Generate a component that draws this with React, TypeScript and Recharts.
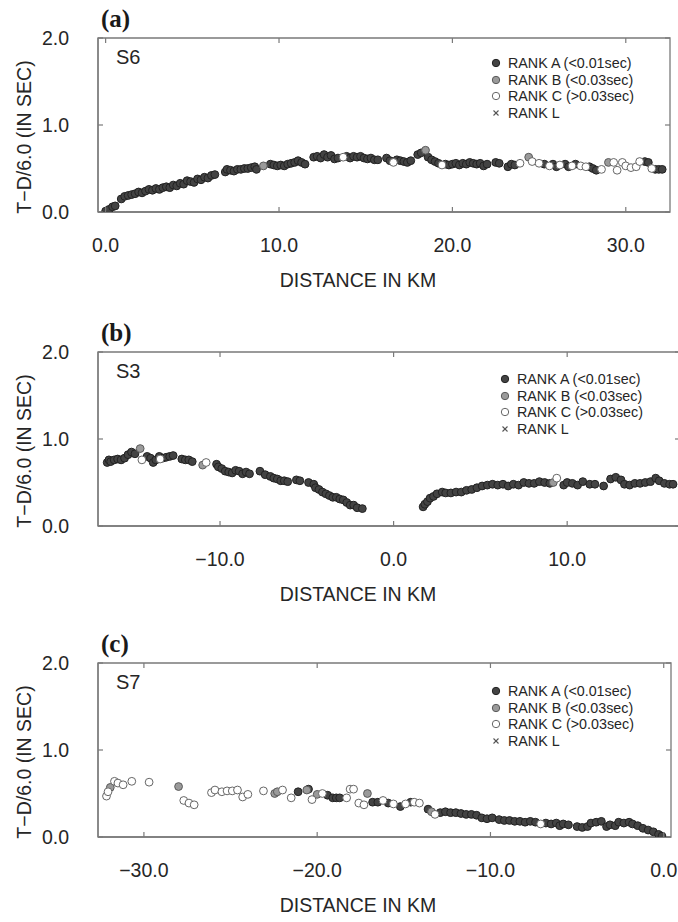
import React from "react";
import { Legend, ReferenceArea, Scatter, ScatterChart, XAxis, YAxis } from "recharts";

const FONT = '"Liberation Sans", Arial, sans-serif';
const INK = "#262626";
const FRAME = "#7a7a7a";

// layout of one panel (plot box is 174px tall, left edge at x=98)
const PLOT_LEFT = 98;
const PLOT_H = 174;
const MT = 36;
const MR = 8;
const XAXIS_H = 85;
const CH = MT + PLOT_H + XAXIS_H;
const DOT_R = 3.9;

const Y_TICKS = [0, 1, 2];

// ---- (a) S6 ----
const S6_X_TICKS = [0, 10, 20, 30];
const S6_RANK_A: [number, number][] = [
  [0.0, 0.01], [0.2, 0.03], [0.4, 0.06], [0.55, 0.07], [0.9, 0.15], [1.1, 0.18], [1.3, 0.19],
  [1.5, 0.2], [1.7, 0.21], [1.9, 0.23], [2.1, 0.22], [2.3, 0.24], [2.5, 0.26], [2.7, 0.25],
  [2.9, 0.27], [3.1, 0.26], [3.3, 0.28], [3.5, 0.29], [3.7, 0.28], [3.9, 0.31], [4.1, 0.3],
  [4.3, 0.33], [4.5, 0.32], [4.7, 0.36], [4.9, 0.35], [5.1, 0.34], [5.3, 0.38], [5.5, 0.37],
  [5.7, 0.4], [5.9, 0.39], [6.1, 0.42], [6.3, 0.43], [6.9, 0.46], [7.0, 0.49], [7.2, 0.48],
  [7.4, 0.47], [7.6, 0.49], [7.8, 0.49], [8.0, 0.5], [8.2, 0.5], [8.4, 0.51], [8.6, 0.52],
  [8.7, 0.49], [9.5, 0.55], [9.7, 0.54], [9.9, 0.53], [10.1, 0.54], [10.3, 0.53], [10.5, 0.55],
  [10.7, 0.56], [10.9, 0.57], [11.1, 0.59], [11.3, 0.57], [11.5, 0.55], [12.0, 0.63], [12.2, 0.64],
  [12.4, 0.62], [12.6, 0.66], [12.8, 0.63], [13.0, 0.65], [13.2, 0.61], [13.4, 0.62], [13.9, 0.64],
  [14.1, 0.62], [14.3, 0.64], [14.5, 0.63], [14.7, 0.64], [14.9, 0.62], [15.1, 0.61], [15.3, 0.62],
  [15.5, 0.6], [15.7, 0.6], [16.2, 0.62], [16.4, 0.59], [16.8, 0.6], [17.0, 0.59], [17.2, 0.58],
  [17.4, 0.57], [17.6, 0.59], [18.0, 0.66], [18.2, 0.68], [18.6, 0.63], [18.8, 0.6], [19.0, 0.58],
  [19.2, 0.56], [19.6, 0.55], [19.8, 0.54], [20.0, 0.55], [20.2, 0.56], [20.4, 0.54], [20.6, 0.56],
  [20.8, 0.55], [21.0, 0.57], [21.2, 0.56], [21.4, 0.55], [21.6, 0.56], [21.8, 0.53], [22.0, 0.55],
  [22.5, 0.57], [22.7, 0.56], [23.2, 0.52], [23.4, 0.55], [23.6, 0.54], [25.3, 0.55], [25.8, 0.55],
  [26.0, 0.52], [26.5, 0.55], [26.7, 0.52], [27.1, 0.55], [27.9, 0.52], [28.1, 0.5], [28.3, 0.48],
  [31.1, 0.58], [31.3, 0.57], [31.7, 0.49], [31.9, 0.49], [32.1, 0.49],
];
const S6_RANK_B: [number, number][] = [[9.1, 0.53], [18.45, 0.71], [24.4, 0.63], [29.0, 0.57]];
const S6_RANK_C: [number, number][] = [
  [13.7, 0.63], [16.6, 0.57], [19.4, 0.54], [23.9, 0.56], [24.6, 0.58], [25.0, 0.56], [25.6, 0.53],
  [26.2, 0.54], [26.9, 0.53], [27.4, 0.53], [27.7, 0.52], [28.6, 0.49], [29.3, 0.57], [29.5, 0.48],
  [29.8, 0.57], [30.0, 0.53], [30.3, 0.51], [30.6, 0.52], [30.8, 0.58], [31.5, 0.5],
];

// ---- (b) S3 ----
const S3_X_TICKS = [-10, 0, 10];
const S3_RANK_A: [number, number][] = [
  [-16.5, 0.73], [-16.4, 0.76], [-16.3, 0.74], [-16.1, 0.76], [-15.9, 0.77], [-15.7, 0.76],
  [-15.5, 0.78], [-15.3, 0.82], [-15.1, 0.85], [-14.9, 0.83], [-14.2, 0.8], [-14.0, 0.78],
  [-13.85, 0.73], [-13.7, 0.76], [-13.5, 0.8], [-13.3, 0.78], [-13.1, 0.79], [-12.9, 0.8],
  [-12.7, 0.81], [-12.2, 0.77], [-12.0, 0.76], [-11.8, 0.76], [-11.6, 0.74], [-10.2, 0.71],
  [-10.1, 0.68], [-9.9, 0.66], [-9.7, 0.63], [-9.5, 0.62], [-9.3, 0.61], [-9.1, 0.64], [-8.9, 0.63],
  [-8.7, 0.6], [-8.5, 0.62], [-8.3, 0.6], [-7.7, 0.63], [-7.4, 0.59], [-7.1, 0.57], [-6.9, 0.55],
  [-6.7, 0.54], [-6.5, 0.52], [-6.3, 0.52], [-6.1, 0.51], [-5.6, 0.53], [-5.4, 0.52], [-4.9, 0.5],
  [-4.6, 0.48], [-4.5, 0.44], [-4.3, 0.42], [-4.1, 0.39], [-3.9, 0.37], [-3.7, 0.35], [-3.5, 0.33],
  [-3.3, 0.33], [-3.1, 0.31], [-2.9, 0.3], [-2.7, 0.27], [-2.5, 0.24], [-2.3, 0.24], [-2.1, 0.21],
  [-1.8, 0.2],
  [1.7, 0.22], [1.8, 0.25], [1.95, 0.28], [2.1, 0.32], [2.3, 0.34], [2.5, 0.37], [2.8, 0.39],
  [3.0, 0.38], [3.3, 0.38], [3.6, 0.39], [3.9, 0.39], [4.2, 0.41], [4.5, 0.42], [4.8, 0.44],
  [5.1, 0.46], [5.4, 0.47], [5.7, 0.48], [6.0, 0.47], [6.3, 0.48], [6.6, 0.46], [6.9, 0.48],
  [7.2, 0.47], [7.5, 0.5], [7.8, 0.49], [8.1, 0.49], [8.4, 0.51], [8.7, 0.5], [9.0, 0.49],
  [9.8, 0.47], [10.0, 0.5], [10.3, 0.49], [10.6, 0.47], [10.9, 0.51], [11.3, 0.48], [11.6, 0.48],
  [12.1, 0.46], [12.5, 0.54], [12.8, 0.56], [13.1, 0.53], [13.3, 0.48], [13.6, 0.47], [13.9, 0.49],
  [14.2, 0.49], [14.5, 0.5], [14.8, 0.51], [15.1, 0.55], [15.3, 0.52], [15.6, 0.49], [15.9, 0.48],
  [16.1, 0.48],
];
const S3_RANK_B: [number, number][] = [[-14.6, 0.89], [-11.0, 0.7], [9.2, 0.5]];
const S3_RANK_C: [number, number][] = [[-14.5, 0.76], [-13.45, 0.77], [-10.8, 0.73], [9.4, 0.55]];

// ---- (c) S7 ----
const S7_X_TICKS = [-30, -20, -10, 0];
const S7_RANK_A: [number, number][] = [
  [-21.1, 0.52], [-20.5, 0.55], [-19.4, 0.48], [-19.1, 0.45], [-18.9, 0.45], [-18.7, 0.45],
  [-16.8, 0.4], [-16.5, 0.4], [-15.9, 0.39], [-15.2, 0.35], [-14.6, 0.4], [-13.6, 0.32],
  [-12.9, 0.28], [-12.6, 0.29], [-12.3, 0.28], [-12.0, 0.28], [-11.7, 0.27], [-11.4, 0.26],
  [-11.1, 0.26], [-10.8, 0.25], [-10.5, 0.22], [-10.2, 0.21], [-9.9, 0.22], [-9.5, 0.2],
  [-9.2, 0.19], [-8.9, 0.19], [-8.6, 0.18], [-8.3, 0.18], [-8.0, 0.17], [-7.7, 0.18], [-7.4, 0.17],
  [-6.8, 0.16], [-6.5, 0.15], [-6.2, 0.16], [-6.0, 0.13], [-5.8, 0.15], [-5.5, 0.14], [-5.0, 0.12],
  [-4.7, 0.11], [-4.4, 0.12], [-4.2, 0.16], [-3.9, 0.17], [-3.6, 0.18], [-3.3, 0.12], [-3.1, 0.14],
  [-2.8, 0.13], [-2.6, 0.17], [-2.3, 0.16], [-2.0, 0.17], [-1.8, 0.15], [-1.5, 0.13], [-1.2, 0.1],
  [-0.9, 0.08], [-0.6, 0.06], [-0.3, 0.03], [-0.1, 0.01],
];
const S7_RANK_B: [number, number][] = [
  [-31.94, 0.57], [-28.0, 0.58], [-22.45, 0.5], [-22.3, 0.52], [-20.6, 0.54], [-20.0, 0.49],
  [-17.1, 0.5], [-13.4, 0.29],
];
const S7_RANK_C: [number, number][] = [
  [-32.16, 0.47], [-32.07, 0.52], [-31.7, 0.64], [-31.5, 0.62], [-31.2, 0.6], [-30.7, 0.64],
  [-29.7, 0.63], [-27.7, 0.42], [-27.4, 0.39], [-27.1, 0.37], [-26.1, 0.51], [-25.9, 0.54],
  [-25.5, 0.52], [-25.2, 0.53], [-24.9, 0.53], [-24.6, 0.54], [-24.3, 0.46], [-24.0, 0.49],
  [-23.1, 0.53], [-22.0, 0.54], [-21.5, 0.45], [-20.3, 0.43], [-19.7, 0.5], [-18.3, 0.45],
  [-18.1, 0.55], [-17.9, 0.55], [-17.6, 0.39], [-17.3, 0.37], [-16.2, 0.42], [-15.6, 0.38],
  [-14.9, 0.38], [-14.4, 0.4], [-14.1, 0.39], [-13.2, 0.26], [-7.1, 0.15],
];

const RANKS = [
  { label: "RANK A (<0.01sec)", fill: "#434343", stroke: "#222222" },
  { label: "RANK B (<0.03sec)", fill: "#9a9a9a", stroke: "#5a5a5a" },
  { label: "RANK C (>0.03sec)", fill: "#ffffff", stroke: "#666666" },
  { label: "RANK L", fill: "none", stroke: "#555555" },
];

const PANELS = [
  {
    letter: "(a)", station: "S6", plotTop: 38, width: 678, xDomain: [-0.44, 32.55],
    xTicks: S6_X_TICKS, a: S6_RANK_A, b: S6_RANK_B, c: S6_RANK_C, legendX: 496, legendY: 25,
  },
  {
    letter: "(b)", station: "S3", plotTop: 352, width: 688, xDomain: [-17.03, 16.5],
    xTicks: S3_X_TICKS, a: S3_RANK_A, b: S3_RANK_B, c: S3_RANK_C, legendX: 505, legendY: 27,
  },
  {
    letter: "(c)", station: "S7", plotTop: 663, width: 679, xDomain: [-32.65, 0.42],
    xTicks: S7_X_TICKS, a: S7_RANK_A, b: S7_RANK_B, c: S7_RANK_C, legendX: 496, legendY: 28,
  },
];

const toPts = (arr: [number, number][]) => arr.map(([x, y]) => ({ x, y }));
const fmt = (v: number) => (v < 0 ? "\u2212" : "") + Math.abs(v).toFixed(1);

function XTick(props: any) {
  const { x, y, payload } = props;
  return (
    <g>
      <line x1={x} x2={x} y1={y} y2={y - 5} stroke={FRAME} strokeWidth={1.2} />
      <line x1={x} x2={x} y1={y - PLOT_H} y2={y - PLOT_H + 5} stroke={FRAME} strokeWidth={1.2} />
      <text x={x} y={y + 40} textAnchor="middle" fontSize={19.5} fill={INK} fontFamily={FONT}>
        {fmt(payload.value)}
      </text>
    </g>
  );
}

const makeYTick = (plotW: number) => (props: any) => {
  const { x, y, payload } = props;
  return (
    <g>
      <line x1={x} x2={x + 5} y1={y} y2={y} stroke={FRAME} strokeWidth={1.2} />
      <line x1={x + plotW} x2={x + plotW - 5} y1={y} y2={y} stroke={FRAME} strokeWidth={1.2} />
      <text x={x - 29} y={y + 7} textAnchor="end" fontSize={19.5} fill={INK} fontFamily={FONT}>
        {payload.value.toFixed(1)}
      </text>
    </g>
  );
};

const XTitle = () => (
  <text x={358} y={MT + PLOT_H + 75} textAnchor="middle" fontSize={19.5} fill={INK} fontFamily={FONT}>
    DISTANCE IN KM
  </text>
);

const YTitle = () => {
  const cy = MT + PLOT_H / 2 + 12;
  return (
    <text
      x={31}
      y={cy}
      transform={`rotate(-90 31 ${cy})`}
      textAnchor="middle"
      fontSize={19.5}
      fill={INK}
      fontFamily={FONT}
    >
      T{"\u2212"}D/6.0 (IN SEC)
    </text>
  );
};

function LegendBox() {
  return (
    <div style={{ fontFamily: FONT, fontSize: 14.3, color: INK }}>
      {RANKS.map((r) => (
        <div key={r.label} style={{ display: "flex", alignItems: "center", height: 16.5, whiteSpace: "nowrap" }}>
          <svg width={12} height={12} style={{ marginRight: 6 }}>
            {r.label === "RANK L" ? (
              <g stroke={r.stroke} strokeWidth={1.1}>
                <line x1={3.5} y1={3.5} x2={8.5} y2={8.5} />
                <line x1={8.5} y1={3.5} x2={3.5} y2={8.5} />
              </g>
            ) : (
              <circle cx={6} cy={6} r={3.7} fill={r.fill} stroke={r.stroke} />
            )}
          </svg>
          <span>{r.label}</span>
        </div>
      ))}
    </div>
  );
}

const dot = (r: (typeof RANKS)[number]) => (p: any) =>
  <circle cx={p.cx} cy={p.cy} r={DOT_R} fill={r.fill} stroke={r.stroke} strokeWidth={1} />;

function Panel(p: (typeof PANELS)[number]) {
  const plotW = p.width - PLOT_LEFT - MR;
  const series = [p.a, p.b, p.c];
  return (
    <div style={{ position: "absolute", left: 0, top: p.plotTop - MT, width: p.width, height: CH }}>
      <ScatterChart width={p.width} height={CH} margin={{ top: MT, right: MR, bottom: 0, left: 0 }}>
        <XAxis
          type="number"
          dataKey="x"
          domain={p.xDomain}
          ticks={p.xTicks}
          interval={0}
          allowDataOverflow
          height={XAXIS_H}
          tickSize={0}
          tickMargin={0}
          tickLine={false}
          axisLine={{ stroke: FRAME, strokeWidth: 1.3 }}
          tick={XTick}
          label={{ content: XTitle }}
        />
        <YAxis
          type="number"
          dataKey="y"
          domain={[0, 2]}
          ticks={Y_TICKS}
          interval={0}
          allowDataOverflow
          width={PLOT_LEFT}
          tickSize={0}
          tickMargin={0}
          tickLine={false}
          axisLine={{ stroke: FRAME, strokeWidth: 1.3 }}
          tick={makeYTick(plotW)}
          label={{ content: YTitle }}
        />
        <ReferenceArea
          x1={p.xDomain[0]}
          x2={p.xDomain[1]}
          y1={0}
          y2={2}
          fill="none"
          fillOpacity={0}
          stroke={FRAME}
          strokeWidth={1.3}
        />
        {series.map((s, i) => (
          <Scatter
            key={RANKS[i].label}
            name={RANKS[i].label}
            data={toPts(s)}
            shape={dot(RANKS[i])}
            isAnimationActive={false}
          />
        ))}
        <Legend
          layout="vertical"
          align="center"
          verticalAlign="middle"
          content={() => <LegendBox />}
          wrapperStyle={{ left: p.legendX - 6, top: MT + p.legendY - 8.25, width: "auto", height: "auto" }}
        />
      </ScatterChart>
      <div
        style={{
          position: "absolute", left: 101, top: MT - 33, fontFamily: '"Liberation Serif", serif',
          fontWeight: "bold", fontSize: 25, lineHeight: "27px", color: "#1a1a1a",
        }}
      >
        {p.letter}
      </div>
      <div
        style={{
          position: "absolute", left: 116, top: MT + 19 - 11, fontFamily: FONT,
          fontSize: 20, lineHeight: "22px", color: INK,
        }}
      >
        {p.station}
      </div>
    </div>
  );
}

export default function App() {
  return (
    <div
      style={{
        position: "absolute", left: 0, top: 0, width: 678, height: 922,
        overflow: "hidden", background: "#fff",
      }}
    >
      {PANELS.map((p) => (
        <Panel key={p.letter} {...p} />
      ))}
    </div>
  );
}
